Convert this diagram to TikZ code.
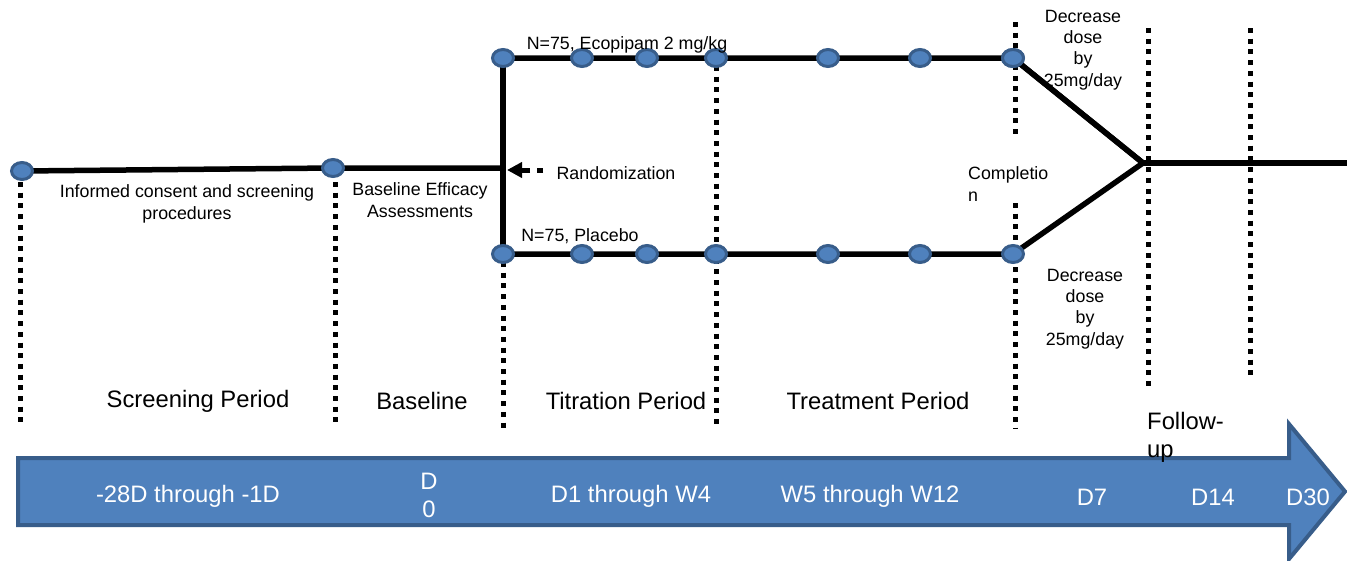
\documentclass[tikz,border=0pt]{standalone}
\usepackage{fontspec}
\setmainfont{Liberation Sans}
\usetikzlibrary{arrows.meta,shapes.geometric,backgrounds}
\definecolor{bfill}{HTML}{4F81BD}
\definecolor{bdraw}{HTML}{385D8A}
\tikzset{
  dotline/.style={line width=5pt, dash pattern=on 5pt off 5.7pt, black},
  solidline/.style={line width=5.5pt, black},
  visit/.style={ellipse, draw=bdraw, fill=bfill, line width=3pt, minimum width=21pt, minimum height=17pt, inner sep=0pt},
  small/.style={font=\fontsize{17.8}{21.3}\selectfont, inner sep=0pt, text=black},
  big/.style={font=\fontsize{23.8}{28}\selectfont, inner sep=0pt, text=black},
  wtext/.style={font=\fontsize{23.8}{28}\selectfont, inner sep=0pt, text=white},
}
\begin{document}
\begin{tikzpicture}[x=1pt,y=-1pt]
\useasboundingbox (0,0) rectangle (1347,560);
% visit dots
\node[visit] (s1) at (22,171) {};
\node[visit] (s2) at (333,168) {};
\foreach \x [count=\i] in {503,582,647,716,828,920,1013} {
  \node[visit] (t\i) at (\x,58) {};
  \node[visit] (p\i) at (\x,254) {};
}
\coordinate (j) at (503,168);
\coordinate (m) at (1143,163);
\coordinate (e) at (1347,163);
% dotted vertical lines
\coordinate (d1t) at (20,182); \coordinate (d1b) at (20,428);
\coordinate (d2t) at (335,182); \coordinate (d2b) at (335,428);
\coordinate (d3t) at (503,262); \coordinate (d3b) at (503,428);
\coordinate (d4t) at (716,66); \coordinate (d4b) at (716,428);
\coordinate (d5t) at (1015,22); \coordinate (d5m) at (1015,136);
\coordinate (d5n) at (1015,203); \coordinate (d5b) at (1015,428);
\coordinate (d6t) at (1148,28); \coordinate (d6b) at (1148,386);
\coordinate (d7t) at (1250,28); \coordinate (d7b) at (1250,376);
\begin{pgfonlayer}{background}
\foreach \a/\b in {d1t/d1b,d2t/d2b,d3t/d3b,d4t/d4b,d5t/d5m,d5n/d5b,d6t/d6b,d7t/d7b}
  \draw[dotline] (\a) -- (\b);
\draw[solidline] (s1.center) -- (s2.center) -- (j);
\draw[solidline] (t1.center) -- (p1.center);
\draw[solidline] (t1.center) -- (t7.center) -- (m) -- (p7.center) -- (p1.center);
\draw[solidline] (m) -- (e);
\end{pgfonlayer}
% randomization arrow
\coordinate (ra) at (543,170);
\coordinate (rb) at (507,170);
\draw[line width=5pt, dash pattern=on 6pt off 7pt on 10pt off 0pt, -{Triangle[length=15pt,width=15pt]}] (ra) -- (rb);
% labels
\node[small] (ecl) at (627,45) {N=75, Ecopipam 2 mg/kg};
\node[small] (pll) at (580,236) {N=75, Placebo};
\node[small] (rnd) at (616,173) {Randomization};
\node[small, align=center] (icl) at (187,204) {Informed consent and screening\\procedures};
\node[small, align=center] (bea) at (420,200) {Baseline Efficacy\\Assessments};
\node[small, align=left, anchor=west] (cmp) at (968,184) {Completio\\n};
\node[small, align=center] (dd1) at (1083,50) {Decrease\\dose\\by\\25mg/day};
\node[small, align=center] (dd2) at (1085,309) {Decrease\\dose\\by\\25mg/day};
\draw[solidline] (t7.center) -- (m);
\node[visit] at (t7) {};
% period labels
\node[big] (sp) at (198,401) {Screening Period};
\node[big] (bl) at (422,401) {Baseline};
\node[big] (tp) at (626,401) {Titration Period};
\node[big] (trp) at (878,401) {Treatment Period};
% big arrow
\coordinate (a1) at (18,458);
\coordinate (a2) at (1289,458);
\coordinate (a3) at (1289,424);
\coordinate (a4) at (1345,491.5);
\coordinate (a5) at (1289,559);
\coordinate (a6) at (1289,525);
\coordinate (a7) at (18,525);
\draw[fill=bfill, draw=bdraw, line width=4pt] (a1) -- (a2) -- (a3) -- (a4) -- (a5) -- (a6) -- (a7) -- cycle;
\node[wtext] (w1) at (188,496) {-28D through -1D};
\node[wtext, align=center] (w2) at (429,495) {D\\0};
\node[wtext] (w3) at (631,496) {D1 through W4};
\node[wtext] (w4) at (870,496) {W5 through W12};
\node[wtext] (w5) at (1092,497) {D7};
\node[wtext] (w6) at (1213,497) {D14};
\node[wtext] (w7) at (1308,497) {D30};
\node[big, align=left, anchor=west] (fu) at (1147,437) {Follow-\\up};
\end{tikzpicture}
\end{document}
